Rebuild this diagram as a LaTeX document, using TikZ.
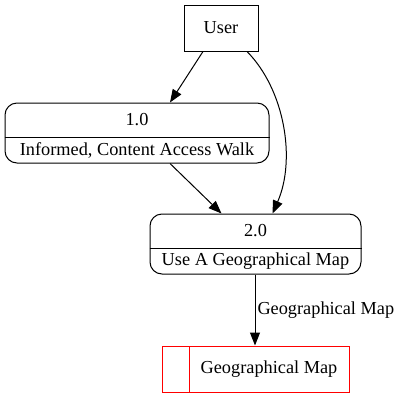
\documentclass[tikz,border=0pt]{standalone}
\usepackage{fontspec}
\setmainfont{Liberation Serif}
\usetikzlibrary{arrows.meta,calc}
\begin{document}
\begin{tikzpicture}[x=1pt,y=-1pt,
  every node/.style={font=\fontsize{18.3}{21}\selectfont, inner sep=0pt},
  box/.style={draw, line width=1pt, minimum width=#1, rectangle},
  proc/.style={draw, line width=1pt, rounded corners=12pt, minimum width=#1, minimum height=60pt},
  store/.style={draw=red, line width=1pt, minimum width=#1, minimum height=46pt},
  arr/.style={line width=1pt, -{Triangle[length=13pt,width=10pt]}},
  lbl/.style={anchor=west}]
\useasboundingbox (0,0) rectangle (400,400);
\node[box=74pt, minimum height=46pt] (user) at (221,28) {User};
\node[proc=264pt] (p1) at (137,133) {};
\draw[line width=1pt] (p1.west |- 0,137) -- (p1.east |- 0,137);
\node (p1n) at (137,120) {1.0};
\node (p1t) at (137,150) {Informed, Content Access Walk};
\node[proc=211pt] (p2) at (255.5,244) {};
\draw[line width=1pt] (p2.west |- 0,248) -- (p2.east |- 0,248);
\node (p2n) at (255.5,231) {2.0};
\node (p2t) at (255.5,261) {Use A Geographical Map};
\node[store=187pt] (ds) at (256,369) {};
\draw[red, line width=1pt] (189,346) -- (189,392);
\node (dst) at (269,369) {Geographical Map};
\draw[arr] ($(user.south)+(-18,0)$) -- ($(p1.north)+(33,0)$);
\draw[arr] ($(user.south)+(26,0)$) .. controls (285,90) and (296,160) .. ($(p2.north)+(17,0)$);
\draw[arr] ($(p1.south)+(33,0)$) -- ($(p2.north)+(-34,0)$);
\draw[arr] (p2.south -| 255,0) -- (ds.north -| 255,0) node[midway, lbl, xshift=2pt] (l4) {Geographical Map};
\end{tikzpicture}
\end{document}
